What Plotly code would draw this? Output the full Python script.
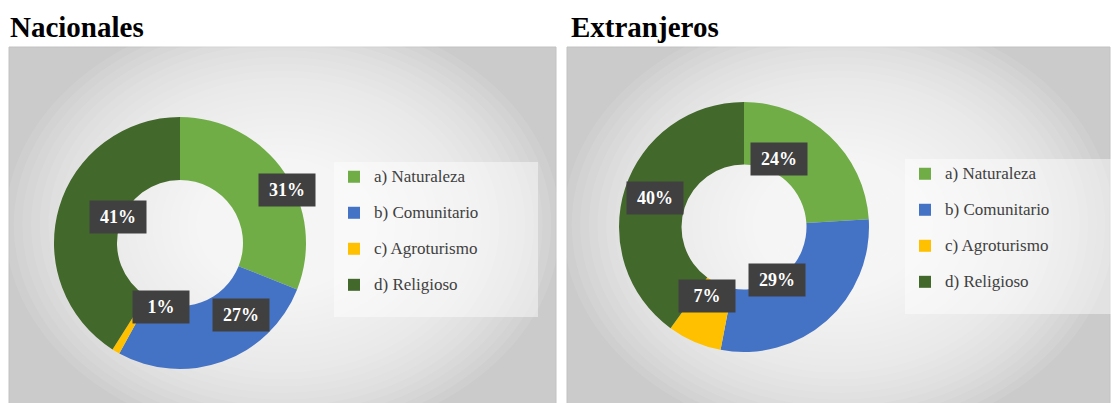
import math
import plotly.graph_objects as go

# datos
categorias = ['a) Naturaleza', 'b) Comunitario', 'c) Agroturismo', 'd) Religioso']
nacionales = [31, 27, 1, 41]
extranjeros = [24, 29, 7, 40]
titulos = ['Nacionales', 'Extranjeros']

colores = ['#70AD47', '#4472C4', '#FFC000', '#43682B']
W, H = 1116, 403
FONT = 'Liberation Serif'

fig = go.Figure()

# dominios de cada dona (px)
dominios = [
    dict(x=[54 / W, 306 / W], y=[32 / H, 288 / H]),
    dict(x=[619 / W, 869 / W], y=[51 / H, 301 / H]),
]

for i, valores in enumerate([nacionales, extranjeros]):
    # segunda linea invisible: da aire entre items y ancho a la caja;
    # distinta en cada dona para que cada leyenda tenga sus propios items
    relleno = '\u00a0' * (50 + i)
    etiquetas = [f'<span style="font-size:17px">{c}</span><br>{relleno}' for c in categorias]
    fig.add_trace(go.Pie(
        labels=etiquetas,
        values=valores,
        hole=0.5,
        sort=False,
        direction='clockwise',
        rotation=0,
        textinfo='none',
        marker=dict(colors=colores, line=dict(width=0)),
        domain=dominios[i],
        legend='legend' if i == 0 else 'legend2',
        hoverinfo='percent',
    ))

# fondos con degradado radial aproximado
paneles = [(9, 556), (567, 1110)]
shapes = []
for x0, x1 in paneles:
    shapes.append(dict(type='rect', xref='paper', yref='paper', layer='below',
                       x0=x0 / W, x1=x1 / W, y0=-0.05, y1=(H - 47) / H,
                       fillcolor='#cbcbcb', line=dict(color='#c2c2c2', width=1)))
    cx = (x0 + x1) / 2
    cy = 225
    n = 32
    for k in range(n):
        f = 1 - k / n
        rx = ((x1 - x0) / 2 + 4) * f
        ry = 215 * f
        shapes.append(dict(type='circle', xref='paper', yref='paper', layer='below',
                           x0=(cx - rx) / W, x1=(cx + rx) / W,
                           y0=(H - cy - ry) / H, y1=(H - cy + ry) / H,
                           fillcolor='rgba(255,255,255,0.085)', line=dict(width=0)))

# etiquetas de porcentaje en cajas oscuras
anots = []
for i, valores in enumerate([nacionales, extranjeros]):
    d = dominios[i]
    cxp = (d['x'][0] + d['x'][1]) / 2 * W
    cyp = (d['y'][0] + d['y'][1]) / 2 * H
    R = min((d['x'][1] - d['x'][0]) * W, (d['y'][1] - d['y'][0]) * H) / 2
    total = sum(valores)
    acum = 0
    for v in valores:
        th = (acum + v / 2) / total * 2 * math.pi
        acum += v
        r = 0.75 * R
        anots.append(dict(
            x=(cxp + r * math.sin(th)) / W, y=(cyp + r * math.cos(th)) / H,
            xref='paper', yref='paper', showarrow=False,
            text=f'<b>{round(v / total * 100)}%</b>',
            font=dict(family=FONT, size=18, color='white'),
            bgcolor='#404040', width=54, height=30,
        ))

for t, x in zip(titulos, [8, 569]):
    anots.append(dict(x=x / W, y=(H - 27) / H, xref='paper', yref='paper',
                      xanchor='left', yanchor='middle', showarrow=False,
                      text=f'<b>{t}</b>', font=dict(family=FONT, size=29, color='black')))

leyenda = dict(
    yanchor='top', xanchor='left',
    bgcolor='rgba(255,255,255,0.45)',
    font=dict(family=FONT, size=12.7, color='#404040'),
    valign='top', borderwidth=0,
)

fig.update_layout(
    width=W, height=H,
    margin=dict(l=0, r=0, t=0, b=0),
    paper_bgcolor='white',
    plot_bgcolor='white',
    shapes=shapes,
    annotations=anots,
    showlegend=True,
    legend=dict(leyenda, x=334 / W, y=(H - 162) / H),
    legend2=dict(leyenda, x=905 / W, y=(H - 159) / H),
)

fig.write_html('out.html', config={'displayModeBar': False},
               post_script="document.body.style.margin='0';")
